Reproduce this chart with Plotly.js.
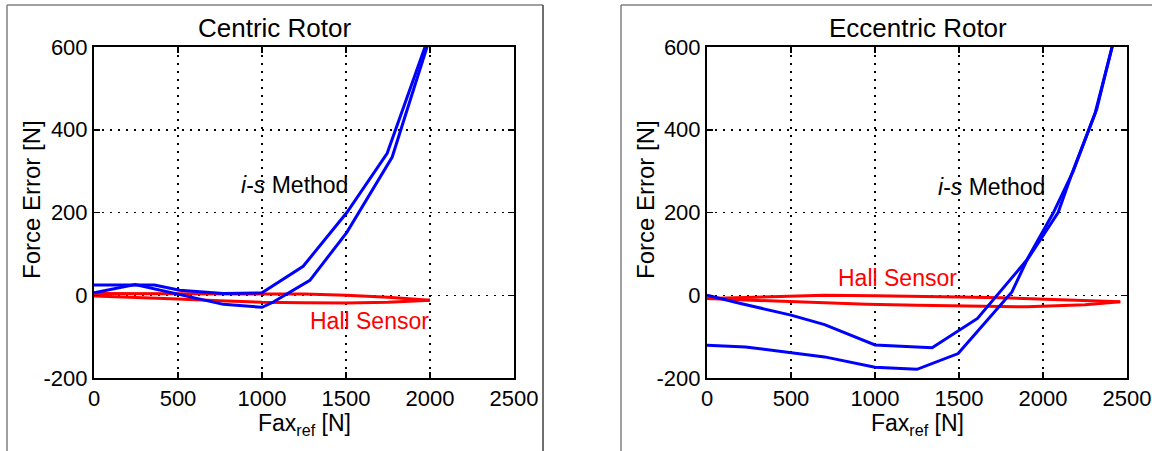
<!DOCTYPE html>
<html>
<head>
<meta charset="utf-8">
<script src="https://cdn.plot.ly/plotly-3.0.1.min.js"></script>
<style>html,body{margin:0;padding:0;background:#fff;}#chart{width:1152px;height:451px;}</style>
</head>
<body>
<div id="chart"></div>
<script>
// ---- Centric rotor ----
const cenIsUpX = [0, 360, 510, 770, 1000, 1245, 1505, 1745, 2000];
const cenIsUpY = [25, 25, 12, 4, 6, 70, 200, 343, 634];
const cenIsDnX = [0, 245, 770, 1000, 1065, 1285, 1505, 1775, 2000];
const cenIsDnY = [6, 26, -22, -29, -17, 36, 152, 334, 623];
const cenHallAX = [0, 250, 500, 750, 1000, 1250, 1500, 1750, 2000];
const cenHallAY = [4, 4, 4, 4, 4, 3, 0, -5, -12];
const cenHallBX = [0, 250, 500, 750, 1000, 1250, 1500, 1750, 2000];
const cenHallBY = [-2, -5, -9, -13, -17, -18, -19, -17, -12];
// ---- Eccentric rotor ----
const eccIsAX = [0, 200, 500, 700, 1000, 1340, 1610, 1910, 2090, 2175, 2310, 2450];
const eccIsAY = [0, -20, -48, -71, -120, -127, -56, 88, 200, 297, 440, 660];
const eccIsBX = [0, 230, 700, 1000, 1250, 1495, 1815, 1910, 2060, 2180, 2320, 2450];
const eccIsBY = [-121, -125, -149, -174, -179, -141, 8, 90, 198, 300, 450, 665];
const eccHallAX = [0, 250, 500, 700, 1000, 1250, 1500, 1750, 2000, 2250, 2460];
const eccHallAY = [-8, -5, -2, 0, -1, -2, -4, -6, -9, -12, -16];
const eccHallBX = [0, 250, 500, 750, 950, 1250, 1500, 1750, 1905, 2250, 2460];
const eccHallBY = [-8, -12, -16, -19, -22, -24, -25, -27, -28, -23, -16];

const xTicks = [0, 500, 1000, 1500, 2000, 2500];
const yTicks = [-200, 0, 200, 400, 600];
const titles = ['Centric Rotor', 'Eccentric Rotor'];

const FONT = 'Liberation Sans, Arial, Helvetica, sans-serif';
const W = 1152, H = 451;
const blue = '#0000ff', red = '#ff0000';

function line(x, y, color, ax) {
  return {x: x, y: y, type: 'scatter', mode: 'lines', xaxis: ax[0], yaxis: ax[1],
          line: {color: color, width: 3}, hoverinfo: 'skip', showlegend: false};
}
const data = [
  line(cenHallAX, cenHallAY, red, ['x', 'y']),
  line(cenHallBX, cenHallBY, red, ['x', 'y']),
  line(cenIsUpX, cenIsUpY, blue, ['x', 'y']),
  line(cenIsDnX, cenIsDnY, blue, ['x', 'y']),
  line(eccHallAX, eccHallAY, red, ['x2', 'y2']),
  line(eccHallBX, eccHallBY, red, ['x2', 'y2']),
  line(eccIsAX, eccIsAY, blue, ['x2', 'y2']),
  line(eccIsBX, eccIsBY, blue, ['x2', 'y2'])
];

const yDom = [1 - 378 / H, 1 - 47 / H];
const GRIDDASH = '2px,6px';
function xax(dom, anchor) {
  return {domain: dom, anchor: anchor, range: [0, 2500], tickvals: xTicks, ticktext: xTicks.map(String),
          showline: true, linecolor: '#000', linewidth: 2, mirror: 'ticks',
          ticks: 'inside', ticklen: 6, tickwidth: 1.5, tickcolor: '#000',
          showgrid: true, gridcolor: '#000', gridwidth: 1.5, griddash: GRIDDASH,
          zeroline: false, tickfont: {family: FONT, size: 22, color: '#000'}, fixedrange: true};
}
function yax(anchor) {
  return {domain: yDom, anchor: anchor, range: [-200, 600], tickvals: yTicks, ticktext: yTicks.map(String),
          showline: true, linecolor: '#000', linewidth: 2, mirror: 'ticks',
          ticks: 'inside', ticklen: 6, tickwidth: 1.5, tickcolor: '#000',
          showgrid: true, gridcolor: '#000', gridwidth: 1.5, griddash: GRIDDASH,
          zeroline: false, tickfont: {family: FONT, size: 22, color: '#000'}, fixedrange: true};
}

function pann(text, px, py, size, extra) {
  return Object.assign({text: text, xref: 'paper', yref: 'paper', x: px / W, y: 1 - py / H,
          xanchor: 'center', yanchor: 'middle', showarrow: false,
          font: {family: FONT, size: size, color: '#000'}}, extra || {});
}
function dann(text, x, y, xr, yr, color) {
  return {text: text, xref: xr, yref: yr, x: x, y: y, xanchor: 'center', yanchor: 'middle',
          showarrow: false, font: {family: FONT, size: 23, color: color}};
}

const annotations = [
  pann(titles[0], 274, 28, 26),
  pann(titles[1], 918, 28, 26),
  pann('Fax<sub>ref</sub> [N]', 304, 424, 23),
  pann('Fax<sub>ref</sub> [N]', 917, 424, 23),
  pann('Force Error [N]', 31, 200, 24, {textangle: -90}),
  pann('Force Error [N]', 645, 200, 24, {textangle: -90}),
  dann('<i>i</i>-<i>s</i> Method', 1196, 266, 'x', 'y', '#000'),
  dann('Hall Sensor', 1637, -62, 'x', 'y', red),
  dann('<i>i</i>-<i>s</i> Method', 1696, 261, 'x2', 'y2', '#000'),
  dann('Hall Sensor', 1131, 41, 'x2', 'y2', red)
];

function seg(x0, y0, x1, y1, color) {
  return {type: 'line', xref: 'paper', yref: 'paper', x0: x0 / W, y0: 1 - y0 / H, x1: x1 / W, y1: 1 - y1 / H,
          line: {color: color, width: 1.5}, layer: 'above'};
}
const shapes = [
  seg(7, 5, 7, 451, '#808080'),
  seg(7, 5, 543, 5, '#808080'),
  seg(543, 5, 543, 451, '#404040'),
  seg(621, 5, 621, 451, '#808080'),
  seg(621, 5, 1152, 5, '#808080')
];

const layout = {
  width: W, height: H, margin: {l: 0, r: 0, t: 0, b: 0},
  paper_bgcolor: '#fff', plot_bgcolor: '#fff', showlegend: false,
  font: {family: FONT, color: '#000'},
  xaxis: xax([94 / W, 514 / W], 'y'),
  yaxis: yax('x'),
  xaxis2: xax([707 / W, 1127 / W], 'y2'),
  yaxis2: yax('x2'),
  annotations: annotations,
  shapes: shapes
};

Plotly.newPlot('chart', data, layout, {displayModeBar: false, staticPlot: true});
</script>
</body>
</html>
